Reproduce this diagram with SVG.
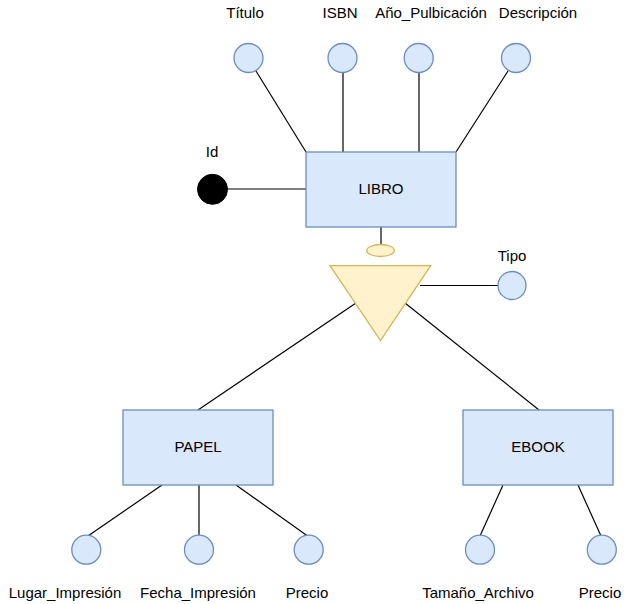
<svg xmlns="http://www.w3.org/2000/svg" width="635" height="604" viewBox="0 0 635 604">
<style>
.ent{fill:#dae8fc;stroke:#6c8ebf;stroke-width:1.3}
.att{fill:#dae8fc;stroke:#6c8ebf;stroke-width:1.3}
.ln{stroke:#000;stroke-width:1.2;fill:none}
text{font-family:"Liberation Sans",Arial,sans-serif;font-size:15px;fill:#000;text-anchor:middle}
</style>
<rect width="635" height="604" fill="#fff"/>
<g id="connectors">
<line class="ln" x1="256" y1="71" x2="306" y2="152"/>
<line class="ln" x1="343" y1="73" x2="343" y2="152"/>
<line class="ln" x1="419" y1="73" x2="419" y2="152"/>
<line class="ln" x1="508" y1="71" x2="456" y2="152"/>
<line class="ln" x1="228" y1="189" x2="306" y2="189"/>
<line class="ln" x1="381" y1="227" x2="381" y2="244"/>
<line class="ln" x1="420" y1="285.5" x2="498" y2="285.5"/>
<line class="ln" x1="356" y1="303" x2="198" y2="410"/>
<line class="ln" x1="405" y1="303" x2="539" y2="410"/>
<line class="ln" x1="162" y1="485" x2="86.5" y2="537"/>
<line class="ln" x1="199" y1="485" x2="199" y2="535"/>
<line class="ln" x1="236" y1="485" x2="309" y2="537"/>
<line class="ln" x1="503" y1="485" x2="480" y2="536"/>
<line class="ln" x1="578" y1="485" x2="601" y2="536"/>
</g>
<g id="libro"><rect class="ent" x="306" y="152" width="150" height="75"/><text x="381" y="194">LIBRO</text></g>
<g id="papel"><rect class="ent" x="123" y="410" width="150" height="75"/><text x="198" y="452">PAPEL</text></g>
<g id="ebook"><rect class="ent" x="463" y="410" width="150" height="75"/><text x="538" y="452">EBOOK</text></g>
<g id="titulo"><circle class="att" cx="248.5" cy="58" r="14.5"/><text x="245" y="18">Título</text></g>
<g id="isbn"><circle class="att" cx="342.5" cy="58" r="14.5"/><text x="340" y="18">ISBN</text></g>
<g id="anio"><circle class="att" cx="418.7" cy="58" r="14.5"/><text x="431" y="18">Año_Pulbicación</text></g>
<g id="descripcion"><circle class="att" cx="516" cy="58" r="14.5"/><text x="538" y="18">Descripción</text></g>
<g id="id"><circle cx="212.5" cy="189.3" r="15" fill="#000" stroke="#000"/><text x="212" y="157">Id</text></g>
<g id="disjoint"><ellipse cx="380.5" cy="250.5" rx="13.8" ry="6" fill="#fff2cc" stroke="#d6b656" stroke-width="1.3"/></g>
<g id="isa"><polygon points="330,265.7 430.7,265.7 380.5,340.5" fill="#fff2cc" stroke="#d6b656" stroke-width="1.3"/></g>
<g id="tipo"><circle class="att" cx="512" cy="285.5" r="14"/><text x="512" y="261">Tipo</text></g>
<g id="lugar"><circle class="att" cx="86.3" cy="549.7" r="14.5"/><text x="65" y="598">Lugar_Impresión</text></g>
<g id="fecha"><circle class="att" cx="199" cy="549.7" r="14.5"/><text x="198" y="598">Fecha_Impresión</text></g>
<g id="precio1"><circle class="att" cx="308.7" cy="549.7" r="14.5"/><text x="307" y="598">Precio</text></g>
<g id="tamano"><circle class="att" cx="480" cy="549.7" r="14.5"/><text x="478" y="598">Tamaño_Archivo</text></g>
<g id="precio2"><circle class="att" cx="601.8" cy="549.7" r="14.5"/><text x="600" y="598">Precio</text></g>
</svg>
